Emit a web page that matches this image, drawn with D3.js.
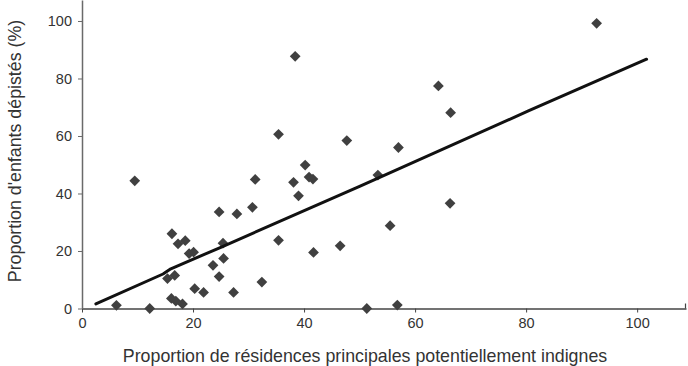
<!DOCTYPE html>
<html>
<head>
<meta charset="utf-8">
<script src="https://cdn.jsdelivr.net/npm/d3@7"></script>
<style>
  body { margin: 0; background: #fff; }
  svg { display: block; }
  text { font-family: "Liberation Sans", Arial, Helvetica, sans-serif; }
</style>
</head>
<body>
<svg id="chart" width="688" height="366"></svg>
<script>
// ---- Data ----
const xValues = [6.2, 9.5, 12.2, 15.4, 16.7, 16.1, 16.9, 18.1, 16.2, 17.3, 18.6, 19.3, 20.1, 20.3, 21.9,
  23.6, 24.7, 24.7, 25.4, 25.5, 27.3, 27.9, 30.7, 31.2, 32.4, 35.4, 35.4, 38.4, 38.1, 39.0,
  40.2, 40.9, 41.6, 41.7, 46.5, 47.7, 51.3, 53.3, 55.5, 56.8, 57.0, 64.2, 66.4, 66.3, 92.7];
const yValues = [1.1, 44.4, 0, 10.4, 11.5, 3.5, 2.6, 1.6, 26.0, 22.5, 23.6, 19.1, 19.6, 6.9, 5.6,
  15.0, 33.6, 11.1, 22.7, 17.4, 5.6, 32.9, 35.2, 44.9, 9.2, 23.7, 60.6, 87.7, 43.9, 39.2,
  49.9, 45.7, 45.0, 19.5, 21.8, 58.4, 0, 46.4, 28.8, 1.2, 56.0, 77.4, 68.1, 36.6, 99.2];
const trendX = [2.5, 14.6, 16.0, 25.0, 50.0, 80.5, 101.7];
const trendY = [1.6, 12.0, 13.8, 21.3, 42.5, 68.8, 86.7];
const xTicks = [0, 20, 40, 60, 80, 100];
const yTicks = [0, 20, 40, 60, 80, 100];
const xTitle = "Proportion de résidences principales potentiellement indignes";
const yTitle = "Proportion d'enfants dépistés (%)";

// ---- Layout ----
const svg = d3.select("#chart");
const x = d3.scaleLinear().domain([0, 108.8]).range([82, 686]);
const y = d3.scaleLinear().domain([0, 107.3]).range([308.5, 0]);

// X axis
const gx = svg.append("g").attr("transform", `translate(0,${y(0)})`)
  .call(d3.axisBottom(x).tickValues(xTicks).tickSize(4).tickSizeOuter(0).tickPadding(5));
gx.select(".domain").attr("stroke", "#444").attr("stroke-width", 1.5);
gx.selectAll(".tick line").attr("stroke", "#444");
gx.selectAll(".tick text").attr("font-size", 14.5).attr("fill", "#333");
// end mark at the right end of the x axis
svg.append("line")
  .attr("x1", x(108.8) - 0.5).attr("x2", x(108.8) - 0.5)
  .attr("y1", y(0)).attr("y2", y(0) - 5)
  .attr("stroke", "#444").attr("stroke-width", 1.2);

// Y axis
const gy = svg.append("g").attr("transform", `translate(${x(0)},0)`)
  .call(d3.axisLeft(y).tickValues(yTicks).tickSize(4).tickSizeOuter(0).tickPadding(6));
gy.select(".domain").attr("stroke", "#6a6a6a").attr("stroke-width", 1.5);
gy.selectAll(".tick line").attr("stroke", "#6a6a6a");
gy.selectAll(".tick text").attr("font-size", 14.5).attr("fill", "#333");

// Points (diamonds = rotated squares)
const sym = d3.symbol().type(d3.symbolSquare).size(58);
svg.append("g").selectAll("path")
  .data(xValues.map((v, i) => [v, yValues[i]]))
  .join("path")
  .attr("d", sym)
  .attr("transform", d => `translate(${x(d[0])},${y(d[1])}) rotate(45)`)
  .attr("fill", "#404040");

// Trend line
const line = d3.line().x(d => x(d[0])).y(d => y(d[1]));
svg.append("path")
  .datum(trendX.map((v, i) => [v, trendY[i]]))
  .attr("d", line)
  .attr("fill", "none")
  .attr("stroke", "#111")
  .attr("stroke-width", 3)
  .attr("stroke-linecap", "round")
  .attr("stroke-linejoin", "round");

// Titles
svg.append("text")
  .attr("x", 365).attr("y", 362)
  .attr("text-anchor", "middle")
  .attr("font-size", 17.8).attr("fill", "#333")
  .text(xTitle);
svg.append("text")
  .attr("transform", `translate(21,151) rotate(-90)`)
  .attr("text-anchor", "middle")
  .attr("font-size", 17.8).attr("fill", "#333")
  .text(yTitle);
</script>
</body>
</html>
